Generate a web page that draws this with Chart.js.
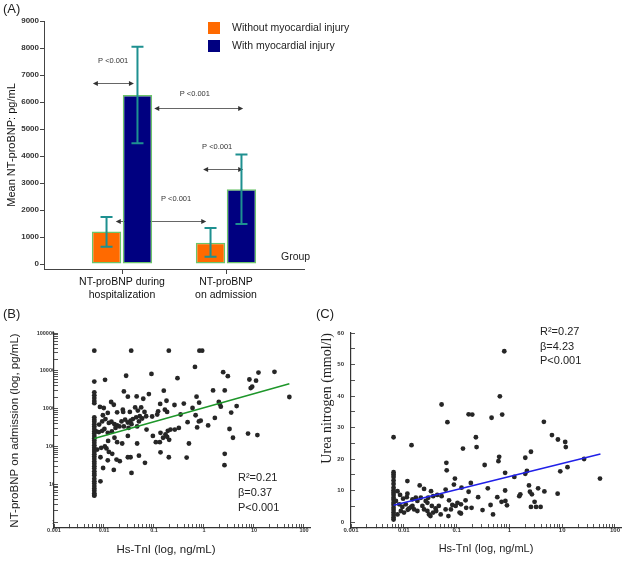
<!DOCTYPE html>
<html>
<head>
<meta charset="utf-8">
<script src="https://cdn.jsdelivr.net/npm/chart.js@4.4.1/dist/chart.umd.min.js"></script>
<style>
  body { margin: 0; background: #fff; width: 633px; height: 563px; position: relative; overflow: hidden;
         font-family: "Liberation Sans", Arial, sans-serif; }
  .box { position: absolute; }
  .tag { position: absolute; font-size: 13px; color: #222; line-height: 15px; }
</style>
</head>
<body>
<div class="box" style="left:0;top:0;width:380px;height:305px"><canvas id="chart-a"></canvas></div>
<div class="box" style="left:0;top:300px;width:315px;height:263px"><canvas id="chart-b"></canvas></div>
<div class="box" style="left:315px;top:300px;width:318px;height:263px"><canvas id="chart-c"></canvas></div>
<div class="tag" style="left:3px;top:1px">(A)</div>
<div class="tag" style="left:3px;top:306px">(B)</div>
<div class="tag" style="left:316px;top:306px">(C)</div>
<script>
// ---- panel A: mean NT-proBNP by group
const groupLabels = ['', ['NT-proBNP during', 'hospitalization'], '', ['NT-proBNP', 'on admission'], ''];
const withoutInjury = [null, 1200, null, 790, null];
const withInjury = [null, 6260, null, 2770, null];
const withoutLow = [null, 640, null, 270, null];
const withoutHigh = [null, 1740, null, 1330, null];
const withLow = [null, 4470, null, 1480, null];
const withHigh = [null, 8050, null, 4060, null];
const bnpTicksA = [0, 1000, 2000, 3000, 4000, 5000, 6000, 7000, 8000, 9000];

// p-value brackets (x in category units, y in pg/mL)
const pText = ['P <0.001', 'P <0.001', 'P <0.001', 'P <0.001'];
const pFrom = [0.44, 1.62, 2.56, 0.88];
const pTo = [1.23, 3.33, 3.33, 2.62];
const pLevel = [6700, 5780, 3520, 1590];
const pTextX = [0.83, 2.40, 2.83, 2.04];
const pTextLevel = [7520, 6300, 4330, 2400];

// ---- panel B: NT-proBNP on admission vs Hs-TnI
const tniB = [
  0.0064, 0.0064, 0.0064, 0.0064, 0.0064, 0.0064, 0.0064, 0.0064, 0.0064, 0.0064,
  0.0064, 0.0064, 0.0064, 0.0064, 0.0064, 0.0064, 0.0064, 0.0064, 0.0064, 0.0064,
  0.0064, 0.0064, 0.0064, 0.0064, 0.0064, 0.0064, 0.0064, 0.0064, 0.0064, 0.0064,
  0.0064, 0.0064, 0.0064, 0.0064, 0.0064, 0.0064, 0.0064, 0.0064, 0.0064, 0.0064,
  0.0064, 0.0064,
  0.035, 0.198, 0.0105, 0.0277, 0.089, 0.295, 0.025, 0.030, 0.045, 0.061,
  0.079, 0.157, 0.178, 0.133, 0.257, 0.0083, 0.0099, 0.0139, 0.0157, 0.0095,
  0.0119, 0.0183, 0.0238, 0.0242, 0.0329, 0.042, 0.0475, 0.0554, 0.0646, 0.0697,
  0.0918, 0.116, 0.121, 0.165, 0.183, 0.0080, 0.0092, 0.0107, 0.0125, 0.0141,
  0.0162, 0.0183, 0.0224, 0.0265, 0.030, 0.034, 0.0378, 0.044, 0.052, 0.058,
  0.050, 0.0355, 0.0070, 0.0079, 0.0092, 0.0102, 0.0119, 0.0144, 0.017, 0.0204,
  0.025, 0.031, 0.046, 0.071, 0.095, 0.135, 0.17, 0.189, 0.214, 0.261,
  0.314, 0.152, 0.183, 0.201, 0.0073, 0.0088, 0.0104, 0.0121, 0.0162, 0.0183,
  0.0231, 0.030, 0.046, 0.109, 0.131, 0.0085, 0.0112, 0.0125, 0.0146, 0.0178,
  0.0207, 0.030, 0.034, 0.050, 0.066, 0.135, 0.198, 0.0096, 0.0119, 0.0157,
  0.0355, 0.0085,
  0.81, 0.92, 0.66, 2.42, 3.0, 8.1, 11.0, 12.3, 25.7, 8.6,
  9.2, 1.52, 2.6, 0.71, 0.80, 0.59, 0.395, 1.98, 2.17, 4.5,
  2.07, 51, 0.34, 0.68, 0.86, 0.79, 0.47, 0.73, 1.21, 1.65,
  3.5, 3.24, 3.8, 7.6, 11.7, 0.50, 0.45, 2.6, 2.57
];
const bnpB = [
  34000, 5200, 2700, 2250, 1900, 1600, 1400, 590, 510, 450,
  390, 340, 290, 250, 220, 190, 165, 145, 125, 108,
  93, 81, 71, 62, 54, 47, 40, 35, 30, 26,
  22, 19, 17, 14, 12, 10.5, 9, 7.8, 6.8, 5.8,
  5.2, 5,
  34000, 34000, 5800, 7400, 8300, 6400, 2860, 2070, 2110, 1830,
  2430, 2980, 1620, 1330, 1250, 1110, 1040, 1500, 1270, 670,
  770, 800, 940, 820, 820, 1080, 890, 1080, 820, 630,
  620, 700, 850, 940, 820, 380, 460, 530, 420, 450,
  390, 360, 460, 510, 430, 480, 530, 590, 630, 550,
  460, 390, 250, 240, 260, 290, 230, 250, 310, 340,
  340, 310, 340, 280, 190, 230, 210, 260, 280, 280,
  310, 170, 180, 150, 83, 92, 100, 140, 170, 130,
  120, 190, 120, 130, 130, 52, 89, 72, 64, 45,
  41, 52, 52, 57, 37, 70, 52, 27, 43, 24,
  20, 12,
  34000, 34000, 12700, 9200, 7200, 5900, 5500, 9000, 9400, 3500,
  3800, 3030, 3030, 2070, 1440, 1040, 1360, 1500, 1130, 1170,
  1330, 2030, 700, 670, 480, 460, 440, 320, 360, 570,
  790, 290, 170, 220, 200, 120, 51, 64, 32
];
const fitTniB = [0.0064, 51];
const fitBnpB = [162, 4550];

// ---- panel C: urea nitrogen vs Hs-TnI
const tniC = [
  0.0064, 0.0064, 0.0064, 0.0064, 0.0064, 0.0064, 0.0064, 0.0064, 0.0064, 0.0064,
  0.0064, 0.0064, 0.0064, 0.0064, 0.0064, 0.0064, 0.0064, 0.0064, 0.0064, 0.0064,
  0.014, 0.052, 0.067, 0.169, 0.198, 0.232, 0.239, 0.132, 0.064, 0.065,
  0.0117, 0.093, 0.020, 0.0242, 0.0328, 0.062, 0.089, 0.124, 0.186, 0.169,
  0.256, 0.0076, 0.0085, 0.0097, 0.0114, 0.0117, 0.0146, 0.0169, 0.0181, 0.021,
  0.026, 0.029, 0.036, 0.043, 0.052, 0.072, 0.083, 0.104, 0.121, 0.148,
  0.0071, 0.0082, 0.0094, 0.0109, 0.0126, 0.0146, 0.0157, 0.0181, 0.0225, 0.0242,
  0.028, 0.030, 0.032, 0.036, 0.040, 0.046, 0.041, 0.050, 0.062, 0.070,
  0.078, 0.096, 0.114, 0.121, 0.0088, 0.0076, 0.0101, 0.0119, 0.0138, 0.034,
  0.028, 0.152, 0.192,
  0.80, 0.66, 0.73, 0.46, 4.5, 6.4, 8.3, 11.4, 11.7, 2.56,
  2.0, 0.64, 0.62, 0.34, 26, 0.83, 2.15, 2.0, 1.24, 9.2,
  12.6, 52, 0.39, 0.83, 2.35, 3.5, 4.6, 2.45, 2.67, 1.61,
  1.54, 0.59, 0.71, 0.84, 0.90, 0.44, 0.31, 0.49, 8.2, 2.56,
  3.2, 3.9, 3.0
];
const ureaC = [
  26.9, 15.8, 15.1, 14.3, 13.2, 12.1, 10.9, 10.0, 9.3, 8.6,
  7.7, 7.0, 6.1, 5.4, 4.5, 3.8, 3.0, 2.2, 1.4, 0.8,
  24.4, 37.3, 31.7, 34.2, 34.1, 26.9, 23.8, 23.3, 18.8, 16.4,
  13.0, 13.8, 11.6, 10.5, 9.8, 10.3, 11.9, 10.9, 12.4, 9.6,
  7.9, 9.8, 8.6, 7.4, 7.9, 9.0, 7.2, 7.7, 6.7, 7.7,
  6.7, 7.7, 8.2, 8.6, 8.2, 6.9, 5.4, 6.1, 5.6, 6.9,
  6.7, 5.6, 4.8, 5.6, 4.3, 5.1, 4.0, 3.5, 5.1, 4.0,
  3.5, 2.4, 1.9, 3.0, 4.3, 5.1, 3.5, 2.4, 4.0, 1.9,
  4.0, 5.1, 3.0, 2.7, 3.5, 2.4, 3.0, 3.9, 4.8, 5.1,
  6.1, 4.5, 4.5,
  54.2, 39.9, 34.1, 33.1, 31.8, 27.6, 26.2, 25.4, 23.8, 22.3,
  20.4, 20.7, 19.3, 18.1, 20.0, 15.6, 16.2, 15.3, 14.3, 16.1,
  17.4, 13.8, 10.7, 10.0, 11.6, 10.7, 9.7, 9.6, 8.8, 8.8,
  8.2, 7.9, 6.4, 6.7, 5.3, 5.4, 3.8, 2.4, 9.0, 4.8,
  4.8, 4.8, 6.4
];
const fitTniC = [0.0064, 53];
const fitUreaC = [5.3, 21.6];

Chart.defaults.font.family = '"Liberation Sans", Arial, sans-serif';
Chart.defaults.color = '#222';
Chart.defaults.animation = false;

const SANS = '"Liberation Sans", Arial, sans-serif';

function toPoints(xs, ys) {
    return xs.map((x, i) => ({x: x, y: ys[i]}));
}

// tick list for a log axis: 1..9 x 10^e, labels only on the decades
function logTicks(lo, hi) {
    let out = [];
    for (let e = lo; e <= hi; e++) {
        for (let k = 1; k <= 9; k++) {
            if (e === hi && k > 1) break;
            out.push({value: +(k * Math.pow(10, e)).toPrecision(2), major: k === 1});
        }
    }
    return out;
}
function decadeLabel(v) {
    const l = Math.log10(v);
    return Math.abs(l - Math.round(l)) < 1e-6 ? String(v) : '';
}

function textPlugin(items) {
    return {
        id: 'panelText',
        afterDraw: (chart) => {
            const ctx = chart.ctx;
            ctx.save();
            items.forEach(t => {
                ctx.font = t.font;
                ctx.fillStyle = t.color || '#222';
                ctx.textAlign = t.align || 'left';
                ctx.textBaseline = 'middle';
                ctx.fillText(t.text, t.x, t.y);
            });
            ctx.restore();
        }
    };
}

function arrowHead(ctx, x, y, dir) {
    ctx.beginPath();
    ctx.moveTo(x, y);
    ctx.lineTo(x - dir * 5, y - 2.5);
    ctx.lineTo(x - dir * 5, y + 2.5);
    ctx.closePath();
    ctx.fill();
}

const barExtras = {
    id: 'barExtras',
    beforeDatasetsDraw: (chart) => {
        const {ctx, scales: {x, y}} = chart;
        ctx.save();
        ctx.lineWidth = 1;
        ctx.strokeStyle = '#666';
        ctx.fillStyle = '#333';
        ctx.font = '7.5px ' + SANS;
        ctx.textAlign = 'center';
        ctx.textBaseline = 'middle';
        for (let i = 0; i < pText.length; i++) {
            const x1 = x.getPixelForValue(pFrom[i]);
            const x2 = x.getPixelForValue(pTo[i]);
            const yy = Math.round(y.getPixelForValue(pLevel[i])) + 0.5;
            ctx.beginPath();
            ctx.moveTo(x1 + 4, yy);
            ctx.lineTo(x2 - 4, yy);
            ctx.stroke();
            arrowHead(ctx, x1, yy, -1);
            arrowHead(ctx, x2, yy, 1);
            ctx.fillText(pText[i], x.getPixelForValue(pTextX[i]), y.getPixelForValue(pTextLevel[i]));
        }
        ctx.restore();
    },
    afterDatasetsDraw: (chart) => {
        const {ctx, scales: {y}} = chart;
        const lows = [withoutLow, withLow];
        const highs = [withoutHigh, withHigh];
        ctx.save();
        ctx.strokeStyle = '#1e9090';
        ctx.lineWidth = 2;
        [0, 1].forEach(d => {
            const meta = chart.getDatasetMeta(d);
            meta.data.forEach((bar, i) => {
                if (lows[d][i] === null) return;
                const cx = bar.x;
                const yl = y.getPixelForValue(lows[d][i]);
                const yh = y.getPixelForValue(highs[d][i]);
                ctx.beginPath();
                ctx.moveTo(cx, yl); ctx.lineTo(cx, yh);
                ctx.moveTo(cx - 6, yl); ctx.lineTo(cx + 6, yl);
                ctx.moveTo(cx - 6, yh); ctx.lineTo(cx + 6, yh);
                ctx.stroke();
            });
        });
        ctx.restore();
    },
    afterDraw: (chart) => {
        const ctx = chart.ctx;
        const sets = chart.data.datasets;
        ctx.save();
        ctx.font = '10.5px ' + SANS;
        ctx.textBaseline = 'middle';
        ctx.textAlign = 'left';
        sets.forEach((ds, i) => {
            const top = 22 + i * 18;
            ctx.fillStyle = ds.backgroundColor;
            ctx.fillRect(208, top, 12, 12);
            ctx.fillStyle = '#222';
            ctx.fillText(ds.label, 232, top + 6);
        });
        ctx.fillText('Group', 281, 257);
        ctx.restore();
    }
};

new Chart(document.getElementById('chart-a'), {
    type: 'bar',
    data: {
        labels: groupLabels,
        datasets: [{
            label: 'Without myocardial injury',
            data: withoutInjury,
            backgroundColor: '#ff6a00',
            borderColor: '#6cc46a',
            borderWidth: 1.5,
            borderSkipped: false,
            categoryPercentage: 1.19,
            barPercentage: 0.95
        }, {
            label: 'With myocardial injury',
            data: withInjury,
            backgroundColor: '#000080',
            borderColor: '#6cc46a',
            borderWidth: 1.5,
            borderSkipped: false,
            categoryPercentage: 1.19,
            barPercentage: 0.95
        }]
    },
    options: {
        responsive: true,
        maintainAspectRatio: false,
        devicePixelRatio: 1,
        layout: { padding: { left: 0, top: 21, right: 76, bottom: 0 } },
        plugins: { legend: { display: false }, tooltip: { enabled: false } },
        scales: {
            x: {
                offset: true,
                grid: {
                    offset: false,
                    drawOnChartArea: false,
                    tickLength: 5,
                    tickColor: (c) => groupLabels[c.index] ? '#444' : 'rgba(0,0,0,0)'
                },
                border: { color: '#444', width: 1 },
                ticks: { autoSkip: false, maxRotation: 0, padding: 2, color: '#111', font: { size: 10.5 } },
                afterFit: (s) => { s.height = 36; }
            },
            y: {
                min: -185,
                max: 9000,
                afterBuildTicks: (s) => { s.ticks = bnpTicksA.map(v => ({value: v})); },
                grid: { drawOnChartArea: false, tickLength: 4, tickColor: '#444' },
                border: { color: '#444', width: 1 },
                ticks: { padding: 1, color: '#333', font: { size: 8, weight: 'bold' }, callback: (v) => String(v) },
                title: { display: true, text: 'Mean NT-proBNP: pg/mL', color: '#111', font: { size: 11 }, padding: { top: 5 } },
                afterFit: (s) => { s.width = 44; }
            }
        }
    },
    plugins: [barExtras]
});

function logAxis(lo, hi, min, max, size, extra) {
    return Object.assign({
        type: 'logarithmic',
        min: min,
        max: max,
        afterBuildTicks: (s) => { s.ticks = logTicks(lo, hi); },
        grid: { drawOnChartArea: false, tickLength: -4, tickColor: '#555' },
        border: { color: '#333', width: 1.2 },
        ticks: { autoSkip: false, maxRotation: 0, color: '#333', font: { size: size, weight: 'bold' }, callback: decadeLabel }
    }, extra);
}

new Chart(document.getElementById('chart-b'), {
    type: 'scatter',
    data: {
        datasets: [{
            type: 'line',
            data: toPoints(fitTniB, fitBnpB),
            borderColor: '#1e962a',
            borderWidth: 1.5,
            pointRadius: 0,
            order: 0
        }, {
            data: toPoints(tniB, bnpB),
            backgroundColor: '#262626',
            borderWidth: 0,
            pointRadius: 2.4,
            pointHoverRadius: 2.4,
            order: 1
        }]
    },
    options: {
        responsive: true,
        maintainAspectRatio: false,
        devicePixelRatio: 1,
        layout: { padding: { left: 0, top: 33, right: 5, bottom: 0 } },
        plugins: { legend: { display: false }, tooltip: { enabled: false } },
        scales: {
            x: logAxis(-3, 2, 0.001, 132, 5.5, {
                afterFit: (s) => { s.height = 35; }
            }),
            y: logAxis(0, 5, 0.74, 100000, 5.5, {
                title: { display: true, text: 'NT-proBNP on admission (log, pg/mL)', color: '#222', font: { size: 11.5 }, padding: { top: 8 } },
                afterFit: (s) => { s.width = 54; }
            })
        }
    },
    plugins: [textPlugin([
        { text: 'Hs-TnI (log, ng/mL)', x: 166, y: 250, font: '11.5px ' + SANS, align: 'center' },
        { text: 'R\u00b2=0.21', x: 238, y: 178, font: '11px ' + SANS },
        { text: '\u03b2=0.37', x: 238, y: 193, font: '11px ' + SANS },
        { text: 'P<0.001', x: 238, y: 207.5, font: '11px ' + SANS }
    ])]
});

new Chart(document.getElementById('chart-c'), {
    type: 'scatter',
    data: {
        datasets: [{
            type: 'line',
            data: toPoints(fitTniC, fitUreaC),
            borderColor: '#2020e8',
            borderWidth: 1.5,
            pointRadius: 0,
            order: 0
        }, {
            data: toPoints(tniC, ureaC),
            backgroundColor: '#262626',
            borderWidth: 0,
            pointRadius: 2.4,
            pointHoverRadius: 2.4,
            order: 1
        }]
    },
    options: {
        responsive: true,
        maintainAspectRatio: false,
        devicePixelRatio: 1,
        layout: { padding: { left: 0, top: 33, right: 12, bottom: 0 } },
        plugins: { legend: { display: false }, tooltip: { enabled: false } },
        scales: {
            x: logAxis(-3, 2, 0.001, 130, 6, {
                title: { display: true, text: 'Hs-TnI (log, ng/mL)', color: '#222', font: { size: 11 }, padding: { bottom: 7 } },
                afterFit: (s) => { s.height = 35; }
            }),
            y: {
                min: -1.9,
                max: 60,
                grid: { drawOnChartArea: false, tickLength: -4, tickColor: '#555' },
                border: { color: '#333', width: 1.2 },
                ticks: {
                    stepSize: 5, includeBounds: false, autoSkip: false, padding: 11, color: '#333',
                    font: { size: 6, weight: 'bold' },
                    callback: (v) => v % 10 === 0 ? String(v) : ''
                },
                title: { display: true, text: 'Urea nitrogen (mmol/l)', align: 'end', color: '#222',
                         font: { size: 14, family: '"Liberation Serif", "Times New Roman", serif' }, padding: { top: 4 } },
                afterFit: (s) => { s.width = 36; }
            }
        }
    },
    plugins: [textPlugin([
        { text: 'R\u00b2=0.27', x: 225, y: 31.5, font: '11px ' + SANS },
        { text: '\u03b2=4.23', x: 225, y: 46.5, font: '11px ' + SANS },
        { text: 'P<0.001', x: 225, y: 61, font: '11px ' + SANS }
    ])]
});
</script>
</body>
</html>
